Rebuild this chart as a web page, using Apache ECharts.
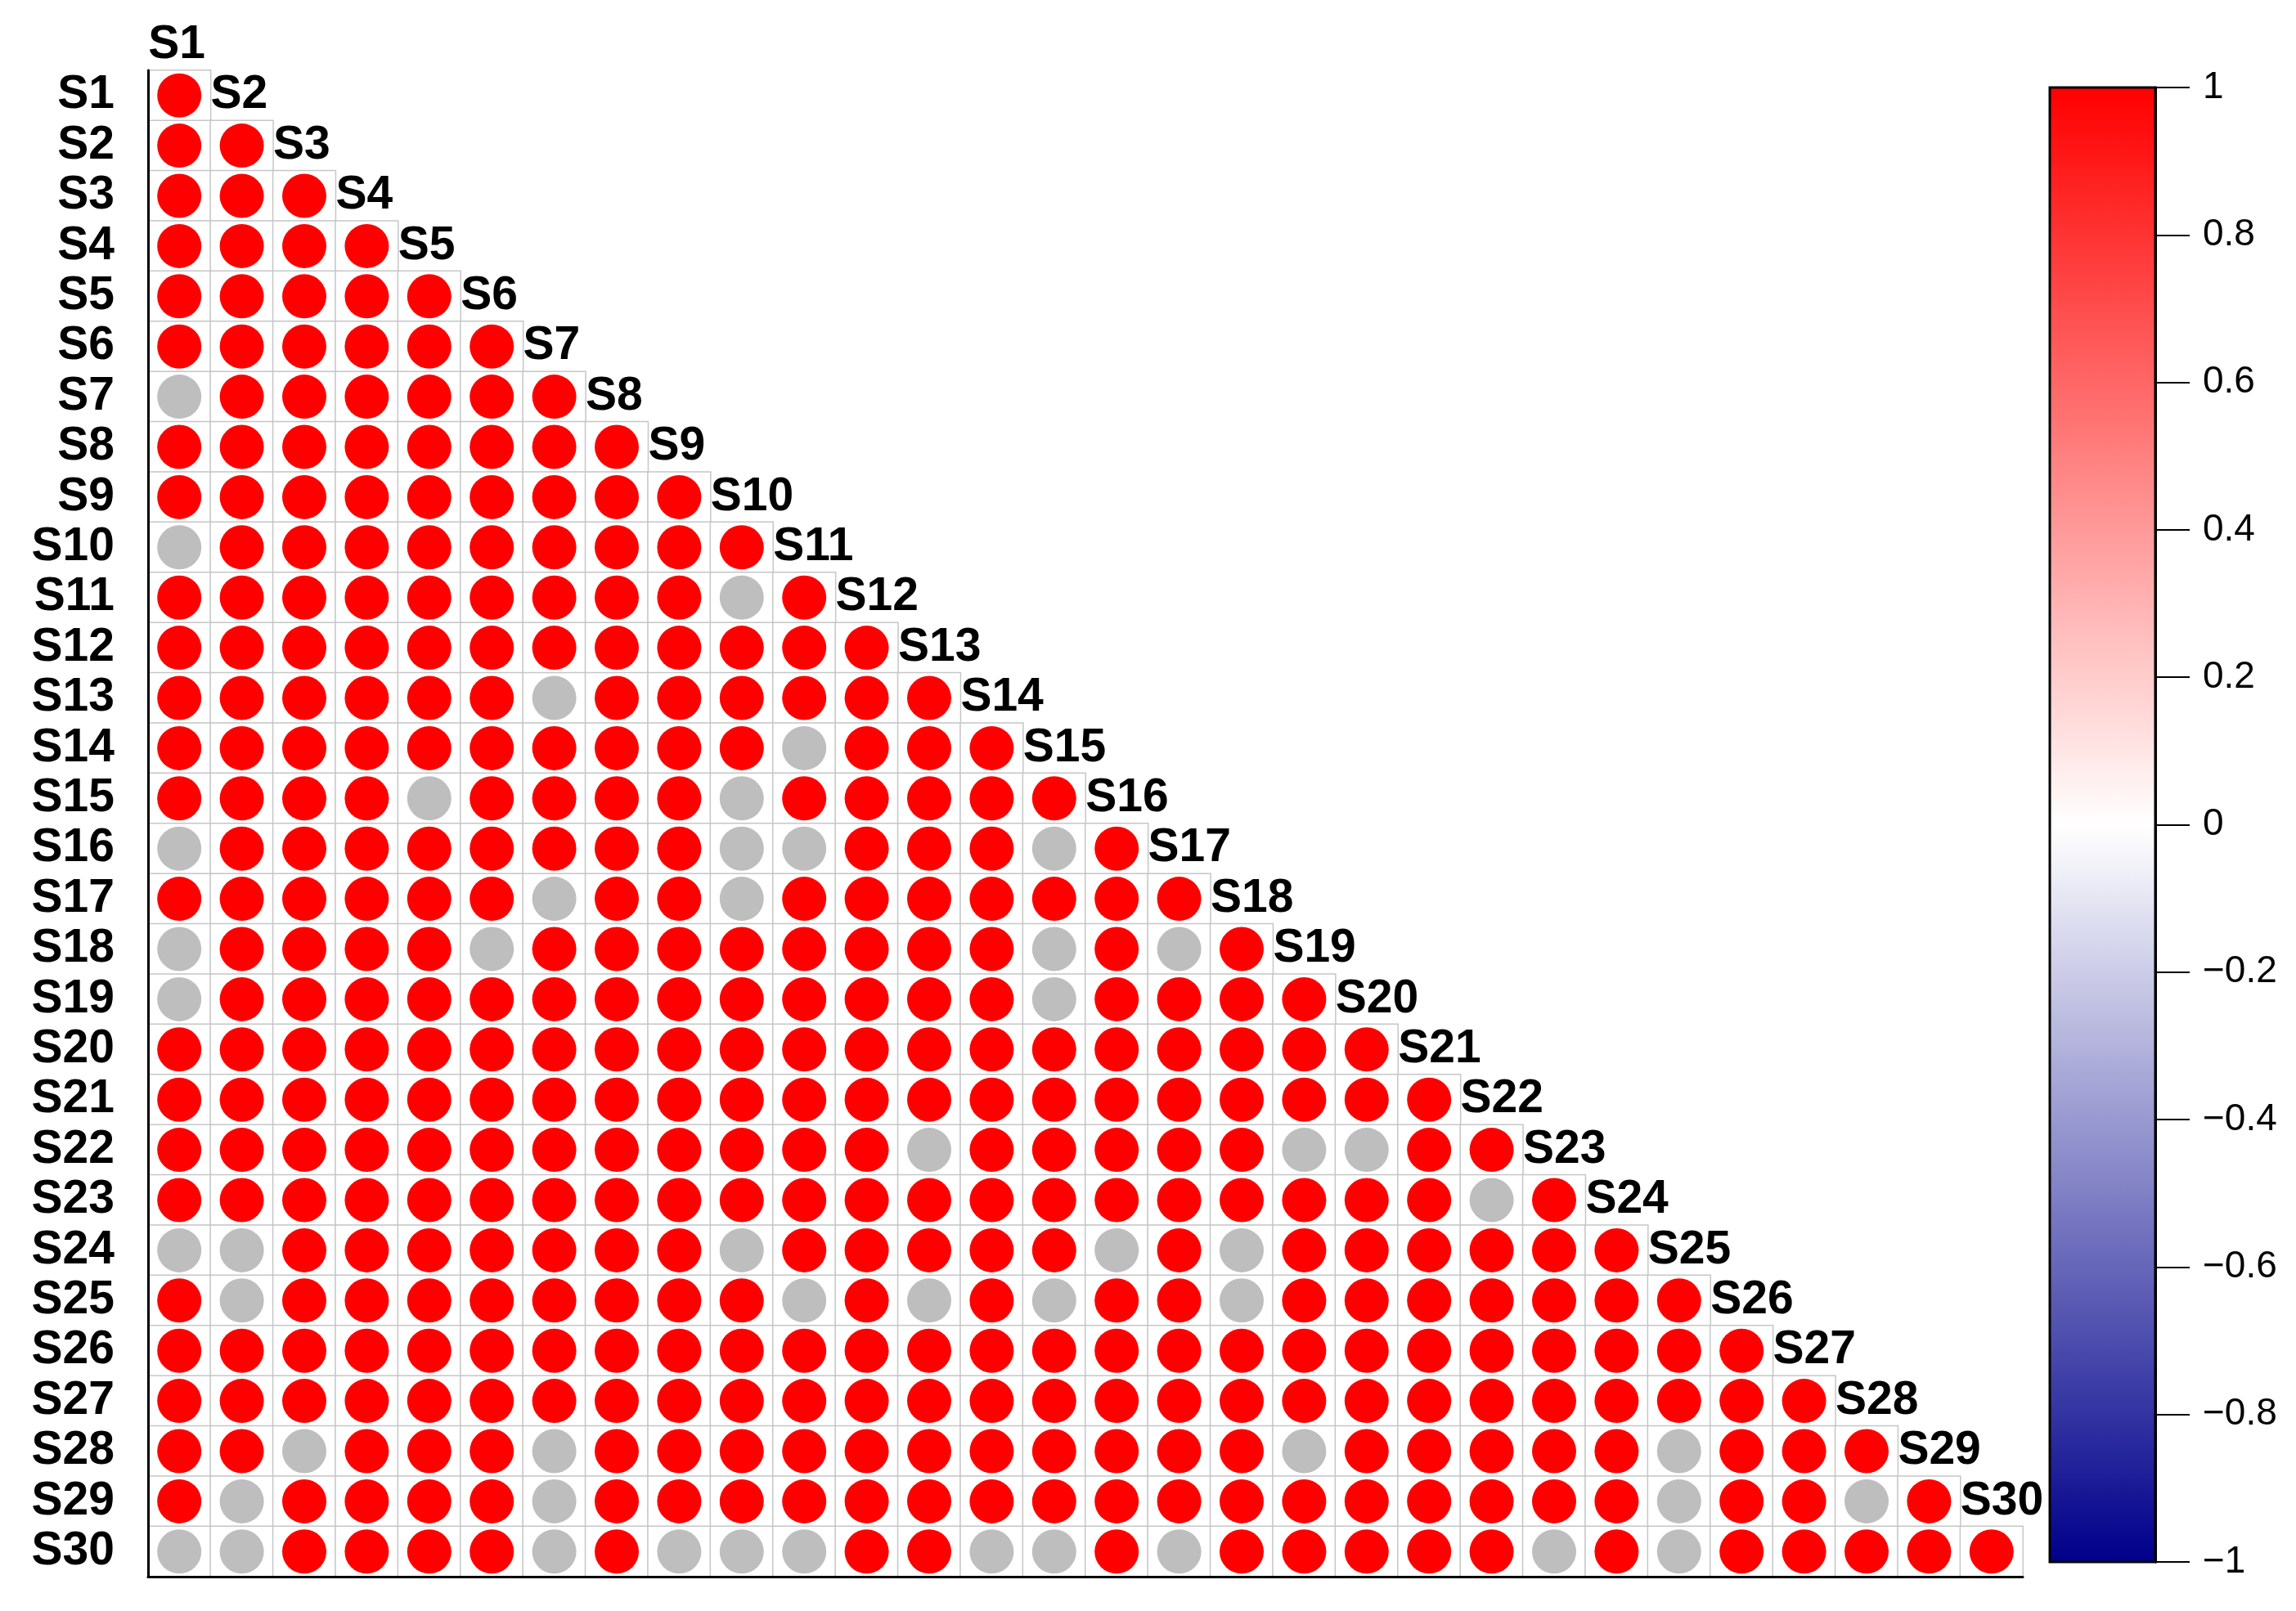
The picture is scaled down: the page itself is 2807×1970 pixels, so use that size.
<!DOCTYPE html>
<html>
<head>
<meta charset="utf-8">
<script src="https://cdn.jsdelivr.net/npm/echarts@6/dist/echarts.min.js"></script>
<style>
html,body{margin:0;padding:0;background:#fff;}
#chart{width:2807px;height:1970px;}
</style>
</head>
<body>
<div id="chart"></div>
<script>
// ---- data ----
const names = ['S1','S2','S3','S4','S5','S6','S7','S8','S9','S10',
               'S11','S12','S13','S14','S15','S16','S17','S18','S19','S20',
               'S21','S22','S23','S24','S25','S26','S27','S28','S29','S30'];

// columns (1-based) drawn as grey (non-significant) circles in each row of the lower triangle
const greyCols = [
  [], [], [], [], [], [], [1], [], [], [1],
  [10], [], [7], [11], [5, 10], [1, 10, 11, 15], [7, 10], [1, 6, 15, 17], [1, 15], [],
  [], [13, 19, 20], [22], [1, 2, 10, 16, 18], [2, 11, 13, 15, 18], [], [], [3, 7, 19, 25], [2, 7, 25, 28],
  [1, 2, 7, 9, 10, 11, 14, 15, 17, 23, 25]
];

// every coloured circle reads as fully saturated red on the colour bar
const redValue = 1;

const tickValues = [1, 0.8, 0.6, 0.4, 0.2, 0, -0.2, -0.4, -0.6, -0.8, -1];
const tickLabels = ['1', '0.8', '0.6', '0.4', '0.2', '0', '\u22120.2', '\u22120.4', '\u22120.6', '\u22120.8', '\u22121'];
const rampColors = ['#00008B', '#FFFFFF', '#FF0000'];

// ---- build series data ----
const cells = [], redPts = [], greyPts = [], diagLabels = [];
for (let r = 0; r < names.length; r++) {
  for (let c = 0; c <= r; c++) {
    cells.push([c, r, 0]);
    if (greyCols[r].indexOf(c + 1) >= 0) greyPts.push([c, r]);
    else redPts.push([c, r, redValue]);
  }
}
for (let k = 0; k < names.length; k++) {
  diagLabels.push({ name: names[k], value: [k, k - 1] });
}

function tickText(v) {
  let best = 0, bd = Infinity;
  tickValues.forEach((t, i) => { const d = Math.abs(t - v); if (d < bd) { bd = d; best = i; } });
  return tickLabels[best];
}

const FONT = 'Liberation Sans, Arial, Helvetica, sans-serif';

const chart = echarts.init(document.getElementById('chart'), null, { renderer: 'canvas' });
chart.setOption({
  backgroundColor: '#ffffff',
  animation: false,
  grid: [
    { left: 181, top: 86, width: 2292, height: 1842 },
    { left: 2506, top: 107, width: 129, height: 1803, show: true, borderColor: '#000', borderWidth: 3,
      backgroundColor: 'transparent', z: 10 }
  ],
  xAxis: [
    { type: 'category', data: names, gridIndex: 0, z: 10,
      axisLine: { onZero: false, lineStyle: { color: '#000', width: 3 } },
      axisTick: { show: false }, axisLabel: { show: false }, splitLine: { show: false } },
    { type: 'value', gridIndex: 1, min: 0, max: 1, show: false, axisLine: { onZero: false } }
  ],
  yAxis: [
    { type: 'category', data: names, inverse: true, gridIndex: 0, z: 10,
      axisLine: { onZero: false, lineStyle: { color: '#000', width: 3 } },
      axisTick: { show: false }, splitLine: { show: false },
      axisLabel: { interval: 0, fontSize: 57, fontWeight: 'bold', color: '#000', margin: 41, fontFamily: FONT } },
    { type: 'value', gridIndex: 1, position: 'right', min: -1, max: 1, interval: 0.2, z: 10,
      axisLine: { show: true, onZero: false, lineStyle: { color: '#000', width: 3 } },
      axisTick: { show: true, inside: false, length: 42, lineStyle: { color: '#000', width: 2 } },
      splitLine: { show: false },
      axisLabel: { fontSize: 46, color: '#000', margin: 58, fontFamily: FONT,
                   showMinLabel: true, showMaxLabel: true, formatter: tickText } }
  ],
  visualMap: {
    type: 'continuous', min: -1, max: 1, seriesIndex: 1, calculable: false,
    inRange: { color: rampColors },
    orient: 'vertical', left: 2506, top: 107, itemWidth: 129, itemHeight: 1803,
    padding: 0, z: 1, text: null, hoverLink: false
  },
  series: [
    { type: 'heatmap', xAxisIndex: 0, yAxisIndex: 0, data: cells, z: 1, silent: true,
      itemStyle: { color: '#ffffff', borderColor: '#c6c6c6', borderWidth: 1.5 },
      emphasis: { disabled: true } },
    { type: 'scatter', xAxisIndex: 0, yAxisIndex: 0, data: redPts, symbol: 'circle', symbolSize: 54, z: 3,
      silent: true, itemStyle: { opacity: 1 } },
    { type: 'scatter', xAxisIndex: 0, yAxisIndex: 0, data: greyPts, symbol: 'circle', symbolSize: 54, z: 3,
      silent: true, itemStyle: { color: '#BEBEBE', opacity: 1 } },
    { type: 'scatter', xAxisIndex: 0, yAxisIndex: 0, data: diagLabels, symbolSize: 0, z: 4, clip: false,
      silent: true, itemStyle: { color: '#000', opacity: 1 },
      label: { show: true, formatter: '{b}', position: 'right', distance: 0, align: 'left', verticalAlign: 'middle',
               offset: [-38, 0], fontSize: 57, fontWeight: 'bold', color: '#000', opacity: 1,
               textBorderWidth: 0, textShadowBlur: 0, fontFamily: FONT } }
  ]
});
</script>
</body>
</html>
